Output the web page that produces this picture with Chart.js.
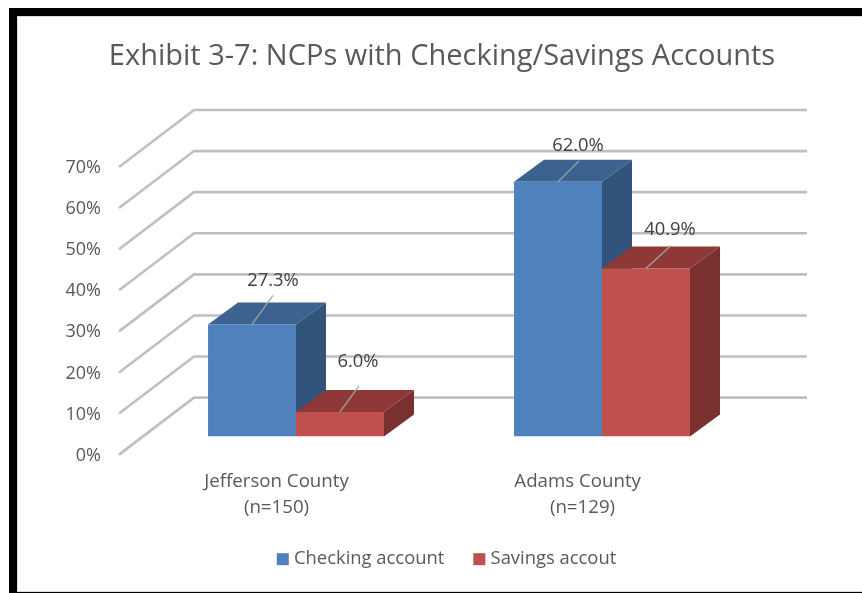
<!DOCTYPE html>
<html>
<head>
<meta charset="utf-8">
<title>Exhibit 3-7</title>
<script src="https://cdn.jsdelivr.net/npm/chart.js@4"></script>
<style>
    html, body { margin: 0; padding: 0; background: #fff; overflow: hidden; }
    #frame { position: absolute; left: 9px; top: 8px; right: 0; bottom: 0; border: solid #000; border-width: 8px 0 1px 8px; }
    #inner { position: absolute; left: 0; top: 0; right: 0; bottom: 0; border: solid #d9d9d9; border-width: 1px 0 1px 1px; }
    canvas { position: absolute; left: 0; top: 0; }
</style>
</head>
<body>
<div id="frame"><div id="inner"></div></div>
<canvas id="accountsChart" width="862" height="593"></canvas>
<script>
const categories = [['Jefferson County', '(n=150)'], ['Adams County  ', '(n=129)']];
const checkingValues = [27.3, 62.0];
const savingsValues = [6.0, 40.9];

const FONT = '"Open Sans", sans-serif';
const seriesStyles = [
    { front: '#4f81bd', top: '#3c628f', side: '#32537a' },
    { front: '#c0504d', top: '#8e3937', side: '#7a302f' }
];
// where each value label sits relative to its bar (x from bar centre, y from bar top)
const labelShift = [
    [{ x: 21, y: -43.5, lineX: 21, lineY: -29 }, { x: 20, y: -36, lineX: 21, lineY: -21 }],
    [{ x: 18, y: -50, lineX: 19, lineY: -26 }, { x: 24, y: -39, lineX: 25, lineY: -23 }]
];

const wallPlugin = {
    id: 'wall3d',
    afterLayout(chart) {
        // title and legend are centred on the picture, not on the plot
        chart.titleBlock.left += 64.5;
        chart.titleBlock.right += 64.5;
        chart.legend.left += 71;
        chart.legend.right += 71;
        chart.legend.top = 517;
        chart.legend.bottom = 620;
    },
    beforeDatasetsDraw(chart) {
        const { ctx, chartArea, scales } = chart;
        ctx.save();
        ctx.strokeStyle = '#bfbfbf';
        ctx.lineWidth = 2.6;
        scales.y.ticks.forEach((tick, i) => {
            const y = scales.y.getPixelForTick(i);
            ctx.beginPath();
            ctx.moveTo(chartArea.left - 24, y + 18);
            ctx.lineTo(chartArea.left + 51, y - 39);
            ctx.lineTo(chartArea.right + 52, y - 39);
            ctx.stroke();
        });

        const dx = 30, dy = 22;
        chart.data.datasets.forEach((ds, d) => {
            chart.getDatasetMeta(d).data.forEach((bar) => {
                const l = bar.x - bar.width / 2, r = bar.x + bar.width / 2;
                ctx.fillStyle = seriesStyles[d].side;
                ctx.beginPath();
                ctx.moveTo(r, bar.y);
                ctx.lineTo(r + dx, bar.y - dy);
                ctx.lineTo(r + dx, bar.base - dy);
                ctx.lineTo(r, bar.base);
                ctx.closePath();
                ctx.fill();
                ctx.fillStyle = seriesStyles[d].top;
                ctx.beginPath();
                ctx.moveTo(l, bar.y);
                ctx.lineTo(l + dx, bar.y - dy);
                ctx.lineTo(r + dx, bar.y - dy);
                ctx.lineTo(r, bar.y);
                ctx.closePath();
                ctx.fill();
            });
        });
        ctx.restore();
    },
    afterDatasetsDraw(chart) {
        const { ctx } = chart;
        ctx.save();
        ctx.font = '18.4px ' + FONT;
        ctx.textAlign = 'center';
        ctx.textBaseline = 'middle';
        chart.data.datasets.forEach((ds, d) => {
            chart.getDatasetMeta(d).data.forEach((bar, i) => {
                const s = labelShift[d][i];
                ctx.strokeStyle = '#a6a6a6';
                ctx.lineWidth = 1.2;
                ctx.beginPath();
                ctx.moveTo(bar.x, bar.y);
                ctx.lineTo(bar.x + s.lineX, bar.y + s.lineY);
                ctx.stroke();
                ctx.fillStyle = '#404040';
                ctx.fillText(ds.data[i].toFixed(1) + '%', bar.x + s.x, bar.y + s.y);
            });
        });
        ctx.restore();
    }
};

new Chart(document.getElementById('accountsChart'), {
    type: 'bar',
    data: {
        labels: categories,
        datasets: [
            { label: 'Checking account', data: checkingValues, backgroundColor: seriesStyles[0].front },
            { label: 'Savings accout', data: savingsValues, backgroundColor: seriesStyles[1].front }
        ]
    },
    options: {
        responsive: false,
        animation: false,
        layout: { padding: { left: 0, right: 107, top: 0, bottom: 0 } },
        datasets: { bar: { categoryPercentage: 0.575, barPercentage: 1 } },
        scales: {
            x: {
                grid: { display: false, drawTicks: false },
                border: { display: false },
                afterFit(scale) { scale.height = 95; },
                ticks: {
                    color: '#595959',
                    font: { family: FONT, size: 18.7, lineHeight: 1.4 },
                    padding: 32,
                    labelOffset: -19.5,
                    maxRotation: 0,
                    autoSkip: false
                }
            },
            y: {
                min: 0,
                max: 70,
                grid: { display: false, drawTicks: false },
                border: { display: false },
                afterFit(scale) { scale.width = 143; },
                ticks: {
                    stepSize: 10,
                    color: '#595959',
                    font: { family: FONT, size: 18 },
                    padding: 42,
                    labelOffset: 19,
                    callback: (v) => v + '%'
                }
            }
        },
        plugins: {
            title: {
                display: true,
                text: 'Exhibit 3-7: NCPs with Checking/Savings Accounts',
                color: '#595959',
                font: { family: FONT, size: 29, weight: 'normal', lineHeight: 1.2 },
                padding: { top: 39.5, bottom: 74.7 }
            },
            legend: {
                position: 'bottom',
                labels: {
                    color: '#595959',
                    font: { family: FONT, size: 18.4 },
                    boxWidth: 4,
                    boxHeight: 4,
                    padding: 33,
                    generateLabels(chart) {
                        return Chart.defaults.plugins.legend.labels.generateLabels(chart).map((item) => {
                            // thick outline gives the 12px square with a tight gap to the text
                            item.lineWidth = 8;
                            item.strokeStyle = item.fillStyle;
                            return item;
                        });
                    }
                }
            },
            tooltip: { enabled: false }
        }
    },
    plugins: [wallPlugin]
});
</script>
</body>
</html>
